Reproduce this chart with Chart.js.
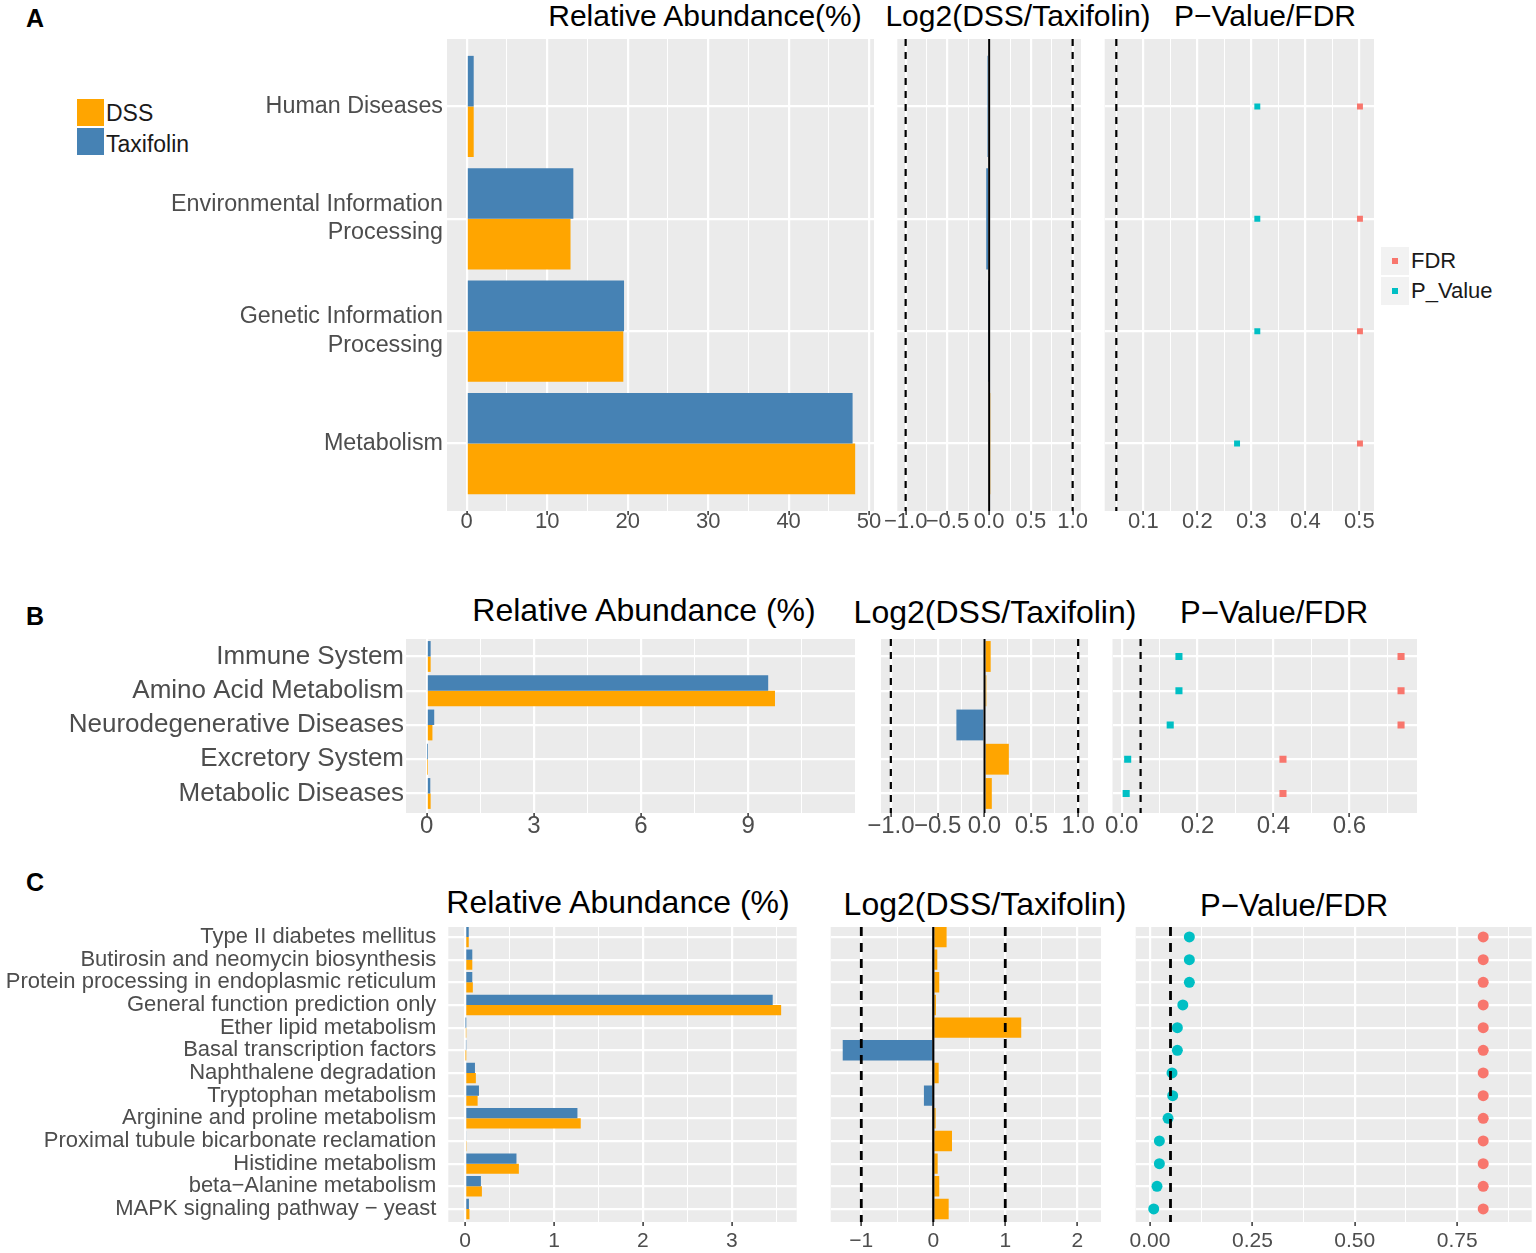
<!DOCTYPE html>
<html>
<head>
<meta charset="utf-8">
<script src="https://cdn.jsdelivr.net/npm/chart.js@4.4.1/dist/chart.umd.min.js"></script>
<style>
  body { margin: 0; background: #fff; width: 1536px; height: 1253px; position: relative; overflow: hidden;
         font-family: "Liberation Sans", Arial, Helvetica, sans-serif; }
  canvas { position: absolute; }
  .tag { position: absolute; font-weight: bold; font-size: 25px; color: #000; transform: translate(-50%, -50%); }
  .title { position: absolute; white-space: nowrap; color: #000; transform: translate(-50%, -50%); }
  .sw { position: absolute; }
  .lt { position: absolute; white-space: nowrap; transform: translateY(-50%); color: #1a1a1a; }
</style>
</head>
<body>
<div class="tag" style="left:35px;top:18px">A</div>
<div class="tag" style="left:35px;top:616px">B</div>
<div class="tag" style="left:35px;top:882px">C</div>

<div class="title" style="left:705px;top:16px;font-size:30px">Relative Abundance(%)</div>
<div class="title" style="left:1018px;top:16px;font-size:30px">Log2(DSS/Taxifolin)</div>
<div class="title" style="left:1265px;top:16px;font-size:30px">P−Value/FDR</div>
<div class="title" style="left:644px;top:610px;font-size:32px">Relative Abundance (%)</div>
<div class="title" style="left:995px;top:612px;font-size:32px">Log2(DSS/Taxifolin)</div>
<div class="title" style="left:1274px;top:613px;font-size:31px">P−Value/FDR</div>
<div class="title" style="left:618px;top:902px;font-size:32px">Relative Abundance (%)</div>
<div class="title" style="left:985px;top:904px;font-size:32px">Log2(DSS/Taxifolin)</div>
<div class="title" style="left:1294px;top:906px;font-size:31px">P−Value/FDR</div>

<!-- legend, group -->
<div class="sw" style="left:77px;top:99px;width:27px;height:27px;background:#FFA500"></div>
<div class="sw" style="left:77px;top:128px;width:27px;height:27px;background:#4682B4"></div>
<div class="lt" style="left:106px;top:113px;font-size:23px">DSS</div>
<div class="lt" style="left:106px;top:144px;font-size:23px">Taxifolin</div>

<!-- legend, p-value type -->
<div class="sw" style="left:1381px;top:247px;width:28px;height:28px;background:#F2F2F2"></div>
<div class="sw" style="left:1381px;top:277px;width:28px;height:28px;background:#F2F2F2"></div>
<div class="sw" style="left:1392px;top:258px;width:6px;height:6px;background:#F8766D"></div>
<div class="sw" style="left:1392px;top:288px;width:6px;height:6px;background:#00BFC4"></div>
<div class="lt" style="left:1411px;top:261px;font-size:22px">FDR</div>
<div class="lt" style="left:1411px;top:291px;font-size:22px">P_Value</div>

<script>
// A: KEGG level 1
const catsA = ['Human Diseases', 'Environmental Information\nProcessing', 'Genetic Information\nProcessing', 'Metabolism'];
const dssA = [0.87, 12.9, 19.46, 48.27];
const taxA = [0.87, 13.25, 19.55, 47.95];
const log2A = [-0.02, -0.035, -0.005, 0.007];
const pA = [0.311, 0.311, 0.311, 0.2735];
const fdrA = [0.501, 0.501, 0.501, 0.501];

// B: KEGG level 2
const catsB = ['Immune System', 'Amino Acid Metabolism', 'Neurodegenerative Diseases', 'Excretory System', 'Metabolic Diseases'];
const dssB = [0.11, 9.75, 0.16, 0.012, 0.11];
const taxB = [0.11, 9.56, 0.21, 0.010, 0.10];
const log2B = [0.066, 0.02, -0.30, 0.26, 0.078];
const pB = [0.151, 0.151, 0.128, 0.016, 0.012];
const fdrB = [0.736, 0.736, 0.736, 0.425, 0.425];

// C: KEGG level 3
const catsC = ['Type II diabetes mellitus', 'Butirosin and neomycin biosynthesis', 'Protein processing in endoplasmic reticulum',
  'General function prediction only', 'Ether lipid metabolism', 'Basal transcription factors', 'Naphthalene degradation',
  'Tryptophan metabolism', 'Arginine and proline metabolism', 'Proximal tubule bicarbonate reclamation',
  'Histidine metabolism', 'beta−Alanine metabolism', 'MAPK signaling pathway − yeast'];
const dssC = [0.04, 0.08, 0.086, 3.555, 0.007, 0.003, 0.12, 0.14, 1.30, 0.016, 0.604, 0.188, 0.048];
const taxC = [0.04, 0.08, 0.08, 3.46, 0.003, 0.008, 0.11, 0.155, 1.263, 0.0134, 0.577, 0.177, 0.042];
const log2C = [0.185, 0.056, 0.083, 0.037, 1.222, -1.258, 0.075, -0.13, 0.033, 0.26, 0.061, 0.083, 0.214];
const pC = [0.096, 0.096, 0.096, 0.080, 0.0667, 0.0667, 0.0537, 0.0553, 0.044, 0.0228, 0.0228, 0.017, 0.009];
const fdrC = [0.8136, 0.8136, 0.8136, 0.8136, 0.8136, 0.8136, 0.8136, 0.8136, 0.8136, 0.8136, 0.8136, 0.8136, 0.8136];

// tick labels
const ticksAbA = [0, 10, 20, 30, 40, 50];
const ticksAbB = [0, 3, 6, 9];
const ticksAbC = [0, 1, 2, 3];
const ticksLogAB = [-1, -0.5, 0, 0.5, 1];
const labelsLogAB = ['−1.0', '−0.5', '0.0', '0.5', '1.0'];
const ticksLogC = [-1, 0, 1, 2];
const labelsLogC = ['−1', '0', '1', '2'];
const ticksPA = [0.1, 0.2, 0.3, 0.4, 0.5];
const labelsPA = ['0.1', '0.2', '0.3', '0.4', '0.5'];
const ticksPB = [0, 0.2, 0.4, 0.6];
const labelsPB = ['0.0', '0.2', '0.4', '0.6'];
const ticksPC = [0, 0.25, 0.5, 0.75];
const labelsPC = ['0.00', '0.25', '0.50', '0.75'];

const BLUE = '#4682B4', ORANGE = '#FFA500', CYAN = '#00BFC4', SALMON = '#F8766D';
const FONT = '"Liberation Sans", Arial, Helvetica, sans-serif';

const panelBg = {
  id: 'panelBg',
  beforeDraw(chart) {
    const {ctx, chartArea: a} = chart;
    ctx.save();
    ctx.fillStyle = '#EBEBEB';
    ctx.fillRect(a.left, a.top, a.right - a.left, a.bottom - a.top);
    ctx.restore();
  },
};

// dashed thresholds and the zero line
const refLines = {
  id: 'refLines',
  afterDatasetsDraw(chart, args, opts) {
    const {ctx, chartArea: a} = chart;
    const x = chart.scales.x;
    (opts.lines || []).forEach(l => {
      const px = x.getPixelForValue(l.value);
      ctx.save();
      ctx.strokeStyle = '#000';
      ctx.lineWidth = l.width;
      ctx.setLineDash(l.dash ? [l.dash[0], l.dash[1]] : []);
      ctx.beginPath();
      ctx.moveTo(px, a.top);
      ctx.lineTo(px, a.bottom);
      ctx.stroke();
      ctx.restore();
    });
  },
};

function withMinor(majors, min, max) {
  const step = majors[1] - majors[0];
  const all = [];
  for (let v = majors[0] - step / 2; v <= max + 1e-9; v += step / 2) {
    if (v >= min - 1e-9) all.push(Math.round(v * 1e6) / 1e6);
  }
  return all;
}

function panel(s) {
  const cv = document.createElement('canvas');
  const left = Math.floor(s.plot[0] - s.yw);
  const top = Math.round(s.plot[1]);
  const yw = s.plot[0] - left;
  const w = Math.round(s.plot[2] - left + s.padR);
  const h = Math.round(s.plot[3] - top + s.xh);
  const padR = w - (s.plot[2] - left);
  cv.width = w; cv.height = h;
  cv.style.left = left + 'px'; cv.style.top = top + 'px';
  cv.style.width = w + 'px'; cv.style.height = h + 'px';
  document.body.appendChild(cv);

  const n = s.cats.length;
  const isMajor = v => s.xTicks.some(m => Math.abs(m - v) < 1e-9);
  const allX = withMinor(s.xTicks, s.xMin, s.xMax);

  new Chart(cv, {
    type: s.type,
    data: {datasets: s.datasets},
    plugins: [panelBg, refLines],
    options: {
      responsive: false,
      animation: false,
      indexAxis: s.type === 'bar' ? 'y' : 'x',
      layout: {autoPadding: false, padding: {left: 0, right: padR, top: 0, bottom: 0}},
      plugins: {
        legend: {display: false},
        tooltip: {enabled: false},
        refLines: {lines: s.lines || []},
      },
      scales: {
        x: {
          type: 'linear', min: s.xMin, max: s.xMax, offset: false,
          afterBuildTicks: sc => { sc.ticks = allX.map(v => ({value: v})); },
          afterFit: sc => { sc.height = s.xh; sc.paddingLeft = 0; sc.paddingRight = 0; },
          border: {display: false},
          grid: {
            offset: false,
            color: '#FFFFFF',
            lineWidth: c => (c.tick && isMajor(c.tick.value)) ? 2.2 : 1,
            tickColor: c => (c.tick && isMajor(c.tick.value)) ? '#333333' : 'rgba(0,0,0,0)',
            tickLength: 4,
            tickWidth: 1.5,
          },
          ticks: {
            autoSkip: false, maxRotation: 0, padding: s.tickPad,
            color: '#4D4D4D', font: {family: FONT, size: s.tickSize, lineHeight: 1},
            callback: v => {
              const i = s.xTicks.findIndex(m => Math.abs(m - v) < 1e-9);
              return i < 0 ? '' : s.xLabels[i];
            },
          },
        },
        y: {
          type: 'linear', min: s.yMin, max: s.yMax, offset: false,
          afterBuildTicks: sc => { sc.ticks = s.cats.map((c, i) => ({value: n - i})); },
          afterFit: sc => { sc.width = yw; sc.paddingTop = 0; sc.paddingBottom = 0; },
          border: {display: false},
          grid: {offset: false, color: '#FFFFFF', lineWidth: 2.2, drawTicks: false},
          ticks: {
            display: !!s.showCats, autoSkip: false, padding: s.catPad || 0,
            color: '#4D4D4D', font: {family: FONT, size: s.catSize || 12, lineHeight: 1.22},
            callback: v => {
              const c = s.cats[n - Math.round(v)];
              return c ? c.split('\n') : '';
            },
          },
        },
      },
    },
  });
}

function pos(cats) { return cats.map((c, i) => cats.length - i); }

function abundance(cats, dss, tax) {
  const p = pos(cats);
  return [
    {label: 'Taxifolin', data: tax.map((v, i) => ({x: v, y: p[i]})), backgroundColor: BLUE,
     categoryPercentage: 0.9, barPercentage: 1, borderWidth: 0},
    {label: 'DSS', data: dss.map((v, i) => ({x: v, y: p[i]})), backgroundColor: ORANGE,
     categoryPercentage: 0.9, barPercentage: 1, borderWidth: 0},
  ];
}

function foldChange(cats, vals) {
  const p = pos(cats);
  return [{
    label: 'Log2', data: vals.map((v, i) => ({x: v, y: p[i]})),
    backgroundColor: vals.map(v => v < 0 ? BLUE : ORANGE),
    categoryPercentage: 0.9, barPercentage: 1, borderWidth: 0,
  }];
}

function pvalues(cats, pv, fdr, style, r) {
  const p = pos(cats);
  return [
    {label: 'FDR', data: fdr.map((v, i) => ({x: v, y: p[i]})), backgroundColor: SALMON,
     pointStyle: style, pointRadius: r, borderWidth: 0},
    {label: 'P_Value', data: pv.map((v, i) => ({x: v, y: p[i]})), backgroundColor: CYAN,
     pointStyle: style, pointRadius: r, borderWidth: 0},
  ];
}

const logLines = [{value: -1, width: 2.2, dash: [7, 6]}, {value: 1, width: 2.2, dash: [7, 6]}, {value: 0, width: 2}];
const logLinesC = [{value: -1, width: 2.8, dash: [9, 7]}, {value: 1, width: 2.8, dash: [9, 7]}, {value: 0, width: 2.2}];

// ---- A ----
const yA = [39.3, 510.7];
panel({type: 'bar', cats: catsA, plot: [447, yA[0], 874, yA[1]], yw: 297, padR: 20, xh: 30,
  xMin: -2.448, xMax: 50.61, xTicks: ticksAbA, xLabels: ticksAbA.map(String), tickSize: 22, tickPad: -4,
  yMin: 0.4, yMax: 4.6, showCats: true, catSize: 23.3, catPad: 4, datasets: abundance(catsA, dssA, taxA)});
panel({type: 'bar', cats: catsA, plot: [897.3, yA[0], 1081, yA[1]], yw: 20, padR: 20, xh: 30,
  xMin: -1.1, xMax: 1.1, xTicks: ticksLogAB, xLabels: labelsLogAB, tickSize: 22, tickPad: -4,
  yMin: 0.4, yMax: 4.6, datasets: foldChange(catsA, log2A), lines: logLines});
panel({type: 'scatter', cats: catsA, plot: [1104.7, yA[0], 1374, yA[1]], yw: 20, padR: 20, xh: 30,
  xMin: 0.0285, xMax: 0.527, xTicks: ticksPA, xLabels: labelsPA, tickSize: 22, tickPad: -4,
  yMin: 0.4, yMax: 4.6, datasets: pvalues(catsA, pA, fdrA, 'rect', 4.2),
  lines: [{value: 0.05, width: 2.2, dash: [7, 6]}]});

// ---- B ----
const yB = [639.3, 812.7];
panel({type: 'bar', cats: catsB, plot: [406, yB[0], 855, yB[1]], yw: 356, padR: 20, xh: 32,
  xMin: -0.58, xMax: 11.99, xTicks: ticksAbB, xLabels: ticksAbB.map(String), tickSize: 24, tickPad: -3,
  yMin: 0.43, yMax: 5.51, showCats: true, catSize: 26, catPad: 2, datasets: abundance(catsB, dssB, taxB)});
panel({type: 'bar', cats: catsB, plot: [881, yB[0], 1088, yB[1]], yw: 22, padR: 20, xh: 32,
  xMin: -1.105, xMax: 1.105, xTicks: ticksLogAB, xLabels: labelsLogAB, tickSize: 24, tickPad: -3,
  yMin: 0.43, yMax: 5.51, datasets: foldChange(catsB, log2B), lines: logLines});
panel({type: 'scatter', cats: catsB, plot: [1112.5, yB[0], 1417, yB[1]], yw: 20, padR: 20, xh: 32,
  xMin: -0.024, xMax: 0.778, xTicks: ticksPB, xLabels: labelsPB, tickSize: 24, tickPad: -3,
  yMin: 0.43, yMax: 5.51, datasets: pvalues(catsB, pB, fdrB, 'rect', 5),
  lines: [{value: 0.05, width: 2.2, dash: [7, 6]}]});

// ---- C ----
const yC = [927.3, 1221.7];
panel({type: 'bar', cats: catsC, plot: [448.3, yC[0], 796.7, yC[1]], yw: 448.3, padR: 20, xh: 32,
  xMin: -0.19, xMax: 3.73, xTicks: ticksAbC, xLabels: ticksAbC.map(String), tickSize: 21, tickPad: 5,
  yMin: 0.425, yMax: 13.44, showCats: true, catSize: 22, catPad: 12, datasets: abundance(catsC, dssC, taxC)});
panel({type: 'bar', cats: catsC, plot: [830.7, yC[0], 1101, yC[1]], yw: 20, padR: 20, xh: 32,
  xMin: -1.425, xMax: 2.33, xTicks: ticksLogC, xLabels: labelsLogC, tickSize: 21, tickPad: 5,
  yMin: 0.425, yMax: 13.44, datasets: foldChange(catsC, log2C), lines: logLinesC});
panel({type: 'scatter', cats: catsC, plot: [1135.7, yC[0], 1531.7, yC[1]], yw: 20, padR: 4, xh: 32,
  xMin: -0.035, xMax: 0.932, xTicks: ticksPC, xLabels: labelsPC, tickSize: 21, tickPad: 5,
  yMin: 0.425, yMax: 13.44, datasets: pvalues(catsC, pC, fdrC, 'circle', 5.5),
  lines: [{value: 0.05, width: 2.8, dash: [9, 7]}]});
</script>
</body>
</html>
